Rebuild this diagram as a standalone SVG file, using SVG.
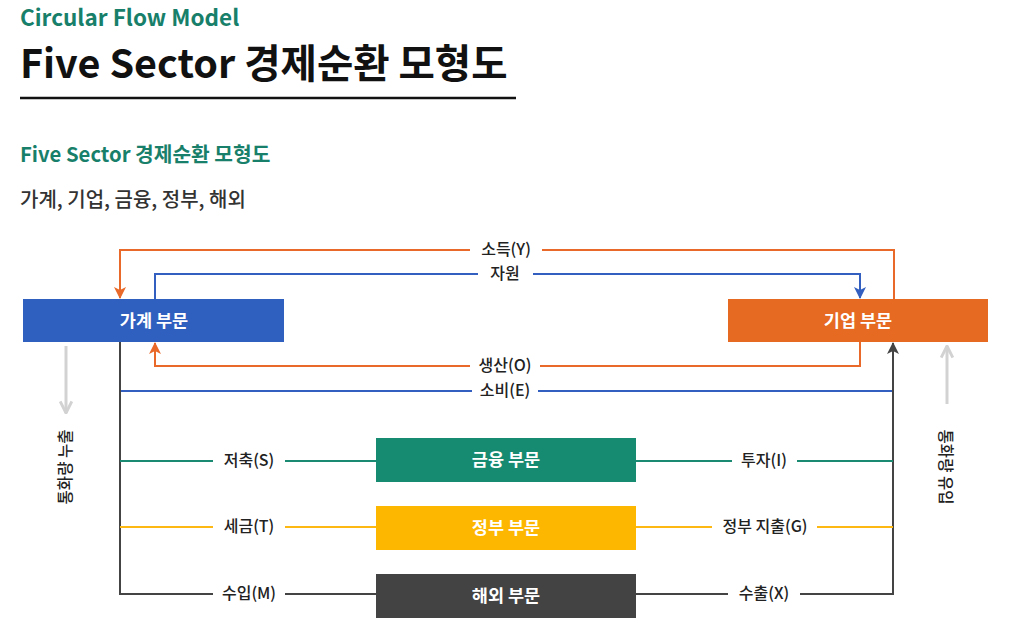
<svg xmlns="http://www.w3.org/2000/svg" width="1015" height="634" viewBox="0 0 1015 634">
<style>
text{font-family:"Noto Sans CJK KR","Noto Sans",sans-serif;}
.lbl{font-size:16px;fill:#222;font-weight:500;text-anchor:middle;}
.box{font-size:17.5px;fill:#fff;font-weight:700;text-anchor:middle;}
.c{fill:none;stroke-width:2;}
.or{stroke:#e8692a;}.bl{stroke:#3360c0;}.tl{stroke:#1a8a73;}.yl{stroke:#fdb813;}.dk{stroke:#444;}
.gr{stroke:#d2d2d2;stroke-width:3;fill:none;}
.side{font-size:15.5px;fill:#222;font-weight:500;text-anchor:middle;}
</style>
<defs>
<marker id="aO" viewBox="0 0 12 12" refX="11" refY="6" markerWidth="12" markerHeight="12" markerUnits="userSpaceOnUse" orient="auto"><path d="M0,0 L12,6 L0,12 L3,6 z" fill="#e8692a"/></marker>
<marker id="aB" viewBox="0 0 12 12" refX="11" refY="6" markerWidth="12" markerHeight="12" markerUnits="userSpaceOnUse" orient="auto"><path d="M0,0 L12,6 L0,12 L3,6 z" fill="#3360c0"/></marker>
<marker id="aD" viewBox="0 0 12 12" refX="11" refY="6" markerWidth="12" markerHeight="12" markerUnits="userSpaceOnUse" orient="auto"><path d="M0,0 L12,6 L0,12 L3,6 z" fill="#444"/></marker>
<marker id="aG" viewBox="0 0 12 12" refX="11" refY="6" markerWidth="14" markerHeight="14" markerUnits="userSpaceOnUse" orient="auto"><path d="M1,1 L11,6 L1,11" fill="none" stroke="#d2d2d2" stroke-width="2.5"/></marker>
</defs>
<rect width="1015" height="634" fill="#fff"/>
<g id="header">
<text x="20" y="26" font-size="22.5" font-weight="700" fill="#18806a">Circular Flow Model</text>
<text x="20" y="78" font-size="39.5" font-weight="700" fill="#111">Five Sector 경제순환 모형도</text>
<line x1="20" y1="98" x2="516" y2="98" stroke="#111" stroke-width="2.5"/>
<text x="20" y="162" font-size="20.3" font-weight="700" fill="#18806a">Five Sector 경제순환 모형도</text>
<text x="20" y="207" font-size="20" font-weight="500" fill="#333">가계, 기업, 금융, 정부, 해외</text>
</g>
<g id="connectors">
<polyline class="c or" points="894,299 894,250 542,250"/>
<polyline class="c or" points="470,250 120,250 120,298" marker-end="url(#aO)"/>
<text class="lbl" x="506" y="255">소득(Y)</text>
<polyline class="c bl" points="155,299 155,274 478,274"/>
<polyline class="c bl" points="533,274 860,274 860,298" marker-end="url(#aB)"/>
<text class="lbl" x="505" y="279">자원</text>
<polyline class="c or" points="860,342 860,366 540,366"/>
<polyline class="c or" points="470,366 155,366 155,343" marker-end="url(#aO)"/>
<text class="lbl" x="505" y="371">생산(O)</text>
<polyline class="c bl" points="120,391 472,391"/>
<polyline class="c bl" points="538,391 893,391"/>
<text class="lbl" x="505" y="396">소비(E)</text>
<polyline class="c dk" points="120,342 120,594 213,594"/>
<line class="c dk" x1="285" y1="594" x2="376" y2="594"/>
<text class="lbl" x="249" y="599">수입(M)</text>
<line class="c tl" x1="120" y1="461" x2="213" y2="461"/>
<line class="c tl" x1="285" y1="461" x2="376" y2="461"/>
<text class="lbl" x="249" y="466">저축(S)</text>
<line class="c yl" x1="120" y1="527" x2="213" y2="527"/>
<line class="c yl" x1="285" y1="527" x2="376" y2="527"/>
<text class="lbl" x="249" y="532">세금(T)</text>
<line class="c dk" x1="636" y1="594" x2="728" y2="594"/>
<polyline class="c dk" points="800,594 893,594 893,343" marker-end="url(#aD)"/>
<text class="lbl" x="764" y="599">수출(X)</text>
<line class="c tl" x1="636" y1="461" x2="732" y2="461"/>
<line class="c tl" x1="797" y1="461" x2="893" y2="461"/>
<text class="lbl" x="764" y="466">투자(I)</text>
<line class="c yl" x1="636" y1="527" x2="712" y2="527"/>
<line class="c yl" x1="817" y1="527" x2="893" y2="527"/>
<text class="lbl" x="765" y="532">정부 지출(G)</text>
<line class="gr" x1="66" y1="346" x2="66" y2="413" marker-end="url(#aG)"/>
<line class="gr" x1="947" y1="404" x2="947" y2="346" marker-end="url(#aG)"/>
<text class="side" transform="translate(71,467) rotate(-90)">통화량 누출</text>
<text class="side" transform="translate(940,467) rotate(90)">통화량 유입</text>
</g>
<g id="household">
<rect x="23" y="299" width="261" height="43" fill="#2f5fbf"/>
<text class="box" x="154" y="327">가계 부문</text>
</g>
<g id="firm">
<rect x="728" y="299" width="260" height="43" fill="#e66a22"/>
<text class="box" x="858" y="327">기업 부문</text>
</g>
<g id="finance">
<rect x="376" y="438" width="260" height="44" fill="#178a72"/>
<text class="box" x="506" y="466">금융 부문</text>
</g>
<g id="government">
<rect x="376" y="506" width="260" height="44" fill="#fdb700"/>
<text class="box" x="506" y="534">정부 부문</text>
</g>
<g id="foreign">
<rect x="376" y="574" width="260" height="44" fill="#434343"/>
<text class="box" x="506" y="602">해외 부문</text>
</g>
</svg>
